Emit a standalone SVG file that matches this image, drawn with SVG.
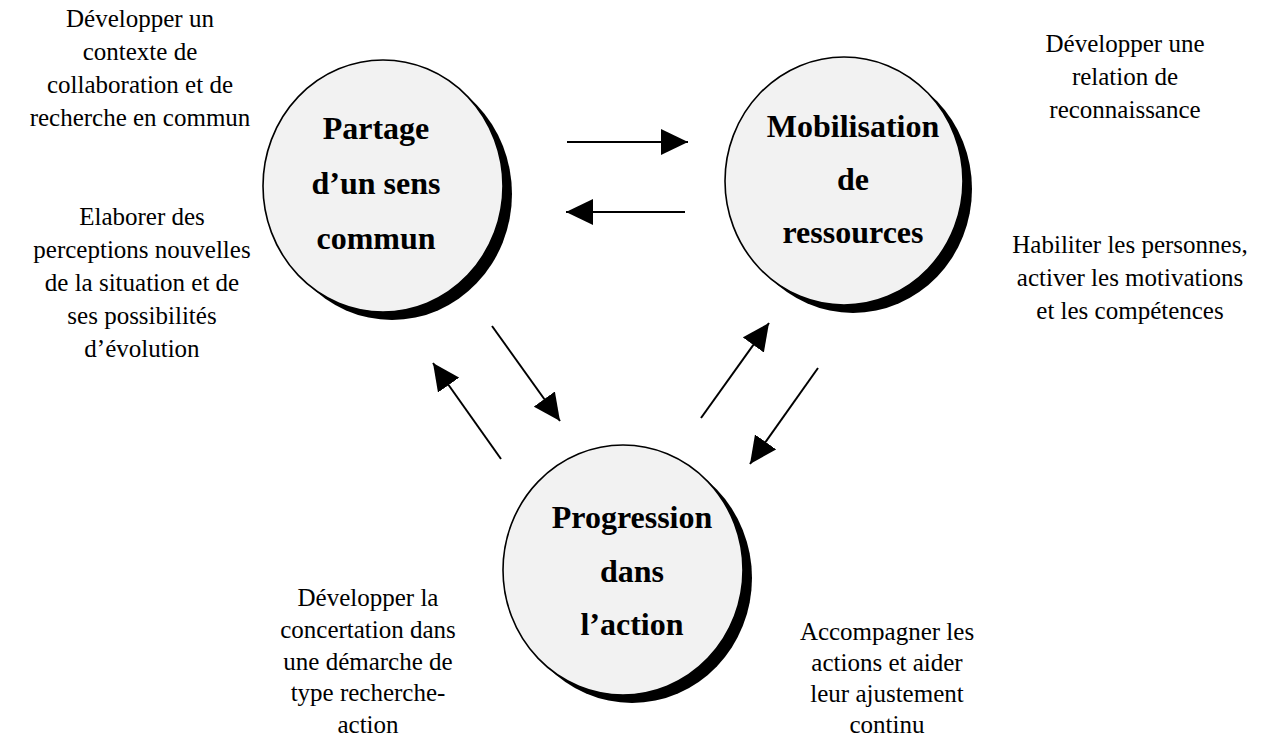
<svg xmlns="http://www.w3.org/2000/svg" width="1269" height="736" viewBox="0 0 1269 736">
<defs>
<style>
.shadow{fill:#000}
.disc{fill:#f2f2f2;stroke:#000;stroke-width:1.6}
.title{font-family:"Liberation Serif","Times New Roman",serif;font-weight:bold;font-size:32px;fill:#000;text-anchor:middle}
.note{font-family:"Liberation Serif","Times New Roman",serif;font-size:25px;fill:#000;text-anchor:middle}
.conn{stroke:#000;stroke-width:2;fill:none;marker-end:url(#ah)}
</style>
<marker id="ah" viewBox="0 0 27 26" refX="27" refY="13" markerWidth="27" markerHeight="26" markerUnits="userSpaceOnUse" orient="auto">
<path d="M0,0 L27,13 L0,26 Z" fill="#000"/>
</marker>
</defs>
<rect width="1269" height="736" fill="#fff"/>

<g id="node-partage">
<ellipse class="shadow" cx="392" cy="194" rx="120" ry="126"/>
<ellipse class="disc" cx="383" cy="186" rx="120" ry="126"/>
<text class="title" x="376" y="139">Partage</text>
<text class="title" x="376" y="194">d’un sens</text>
<text class="title" x="376" y="249">commun</text>
</g>

<g id="node-mobilisation">
<ellipse class="shadow" cx="853" cy="189" rx="119" ry="124"/>
<ellipse class="disc" cx="844" cy="181" rx="119" ry="124"/>
<text class="title" x="853" y="137">Mobilisation</text>
<text class="title" x="853" y="190">de</text>
<text class="title" x="853" y="243">ressources</text>
</g>

<g id="node-progression">
<ellipse class="shadow" cx="632" cy="578" rx="120" ry="125"/>
<ellipse class="disc" cx="623" cy="570" rx="120" ry="125"/>
<text class="title" x="632" y="528">Progression</text>
<text class="title" x="632" y="582">dans</text>
<text class="title" x="632" y="635">l’action</text>
</g>

<g id="connectors">
<line class="conn" x1="567" y1="142" x2="688" y2="142"/>
<line class="conn" x1="685" y1="212" x2="566" y2="212"/>
<line class="conn" x1="492" y1="326" x2="560" y2="421"/>
<line class="conn" x1="501" y1="459" x2="433" y2="363"/>
<line class="conn" x1="701" y1="418" x2="769" y2="323"/>
<line class="conn" x1="818" y1="368" x2="750" y2="464"/>
</g>

<g id="label-top-left">
<text class="note" x="140" y="27">Développer un</text>
<text class="note" x="140" y="60">contexte de</text>
<text class="note" x="140" y="93">collaboration et de</text>
<text class="note" x="140" y="126">recherche en commun</text>
</g>

<g id="label-left">
<text class="note" x="142" y="225">Elaborer des</text>
<text class="note" x="142" y="258">perceptions nouvelles</text>
<text class="note" x="142" y="291">de la situation et de</text>
<text class="note" x="142" y="324">ses possibilités</text>
<text class="note" x="142" y="357">d’évolution</text>
</g>

<g id="label-top-right">
<text class="note" x="1125" y="52">Développer une</text>
<text class="note" x="1125" y="85">relation de</text>
<text class="note" x="1125" y="118">reconnaissance</text>
</g>

<g id="label-right">
<text class="note" x="1130" y="253">Habiliter les personnes,</text>
<text class="note" x="1130" y="286">activer les motivations</text>
<text class="note" x="1130" y="319">et les compétences</text>
</g>

<g id="label-bottom-left">
<text class="note" x="368" y="606">Développer la</text>
<text class="note" x="368" y="638">concertation dans</text>
<text class="note" x="368" y="670">une démarche de</text>
<text class="note" x="368" y="701">type recherche-</text>
<text class="note" x="368" y="733">action</text>
</g>

<g id="label-bottom-right">
<text class="note" x="887" y="640">Accompagner les</text>
<text class="note" x="887" y="671">actions et aider</text>
<text class="note" x="887" y="702">leur ajustement</text>
<text class="note" x="887" y="733">continu</text>
</g>
</svg>
